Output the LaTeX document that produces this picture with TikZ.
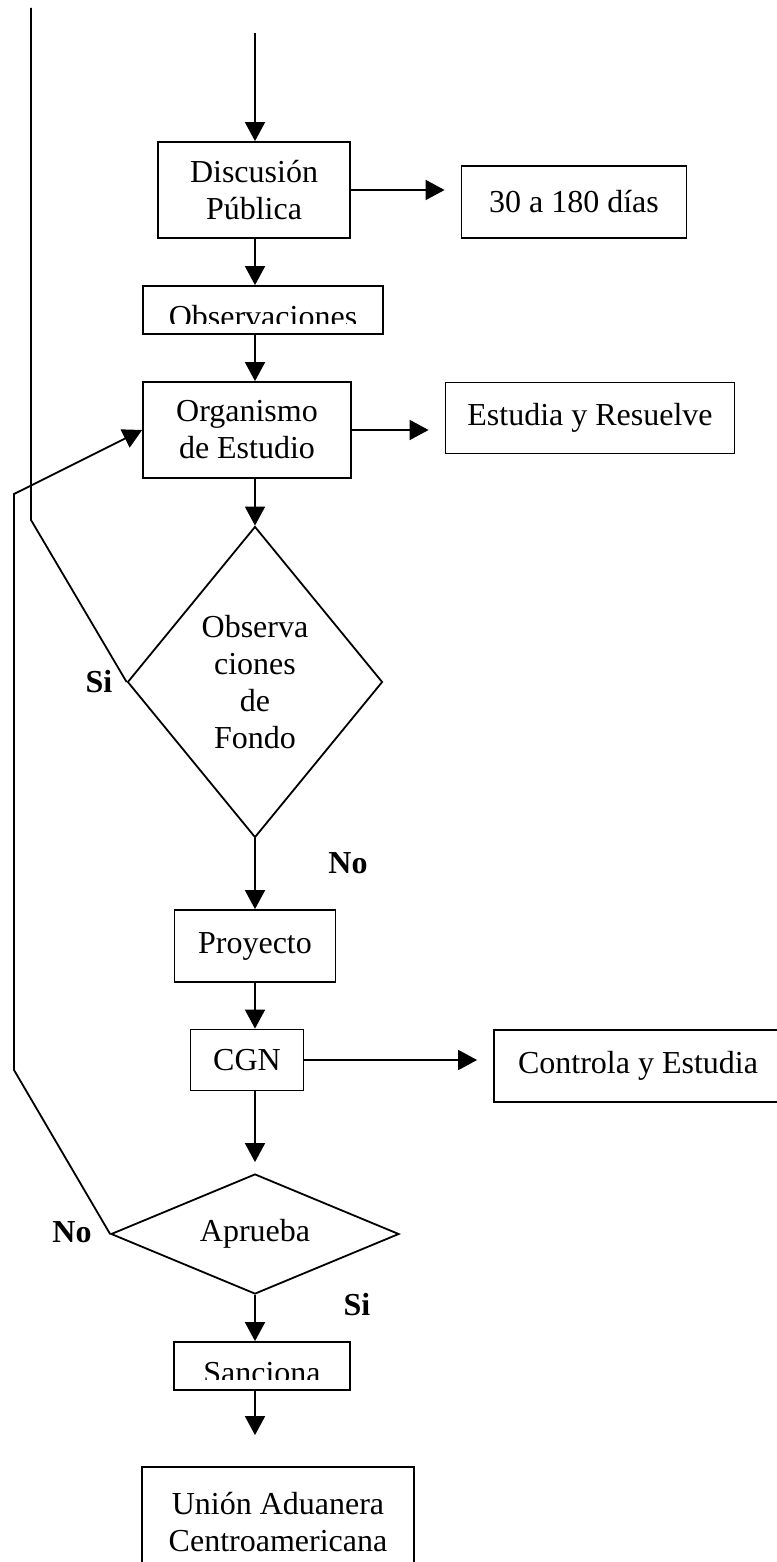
\documentclass[tikz,border=0pt]{standalone}
\usepackage{fontspec}
\setmainfont{Liberation Serif}
\usetikzlibrary{shapes.geometric,arrows.meta}

\begin{document}
\begin{tikzpicture}[>={Triangle[width=20pt,length=19pt]}, line width=1.8pt,
  every node/.style={font=\fontsize{32pt}{37pt}\selectfont},
  box/.style={draw, rectangle, inner sep=0pt, align=center},
  choice/.style={draw, diamond, inner sep=0pt, align=center},
  answer/.style={font=\fontsize{32pt}{37pt}\selectfont\bfseries},
  cut/.style={path picture={\clip ([yshift=11pt]path picture bounding box.south west) rectangle (path picture bounding box.north east);
    \node[anchor=base] at ([yshift=7pt]path picture bounding box.south) {#1};}}]
  \useasboundingbox (0pt, 0pt) rectangle (776pt, -1562pt);
  \draw (254pt, -190pt)node[box, minimum width=192pt, minimum height=96pt](disc){Discusión\\Pública};
  \draw (574pt, -202pt)node[box, minimum width=225pt, minimum height=72pt](dias){30 a 180 días};
  \draw (263pt, -310pt)node[box, minimum width=240pt, minimum height=48pt, cut=Observaciones](obs){};
  \draw (247pt, -430pt)node[box, minimum width=208pt, minimum height=96pt](org){Organismo\\de Estudio};
  \draw (590pt, -418pt)node[box, minimum width=289pt, minimum height=71pt](est){Estudia y Resuelve};
  \draw (255pt, -682pt)node[choice, minimum width=255pt, minimum height=311pt](fondo){Observa\\ciones\\de\\Fondo};
  \draw (255pt, -946pt)node[box, minimum width=161pt, minimum height=72pt](proy){Proyecto};
  \draw (247pt, -1060pt)node[box, minimum width=113pt, minimum height=61pt](cgn){CGN};
  \draw (638pt, -1066pt)node[box, minimum width=288pt, minimum height=72pt](ctrl){Controla y Estudia};
  \draw (255pt, -1234pt)node[choice, aspect=2.4, minimum width=288pt, minimum height=120pt](apr){Aprueba};
  \draw (262pt, -1366pt)node[box, minimum width=176pt, minimum height=48pt, cut=Sanciona](sanc){};
  \draw (278pt, -1522pt)node[box, minimum width=272pt, minimum height=110pt](union){Unión Aduanera\\Centroamericana};
  \draw (99pt, -682pt)node[answer](si1){Si};
  \draw (348pt, -863pt)node[answer](no1){No};
  \draw (72pt, -1232pt)node[answer](no2){No};
  \draw (357pt, -1305pt)node[answer](si2){Si};
  \coordinate (entry) at (255pt, -33pt);
  \coordinate (upper) at (31pt, -8pt);
  \draw[->] (entry) -- (entry |- disc.north);
  \draw[->] (entry |- disc.south) -- (entry |- obs.north);
  \draw[->] (entry |- obs.south) -- (entry |- org.north);
  \draw[->] (entry |- org.south) -- (fondo.north);
  \draw[->] (fondo.south) -- (fondo.south |- proy.north);
  \draw[->] (fondo.south |- proy.south) -- (fondo.south |- cgn.north);
  \draw[->, shorten >=11pt] (apr.north |- cgn.south) -- (apr.north);
  \draw[->] (apr.south) -- (apr.south |- sanc.north);
  \draw[->, shorten >=31pt] (apr.south |- sanc.south) -- (apr.south |- union.north);
  \draw[->, shorten >=16pt] (disc.east) -- (disc.east -| dias.west);
  \draw[->, shorten >=16pt] (org.east) -- (org.east -| est.west);
  \draw[->, shorten >=16pt] (cgn.east) -- (cgn.east -| ctrl.west);
  \draw (fondo.west) -- (31pt, -520pt) -- (upper);
  \draw[->] (apr.west) -- (14pt, -1070pt) -- (14pt, -494pt) -- (org.west);
\end{tikzpicture}
\end{document}
